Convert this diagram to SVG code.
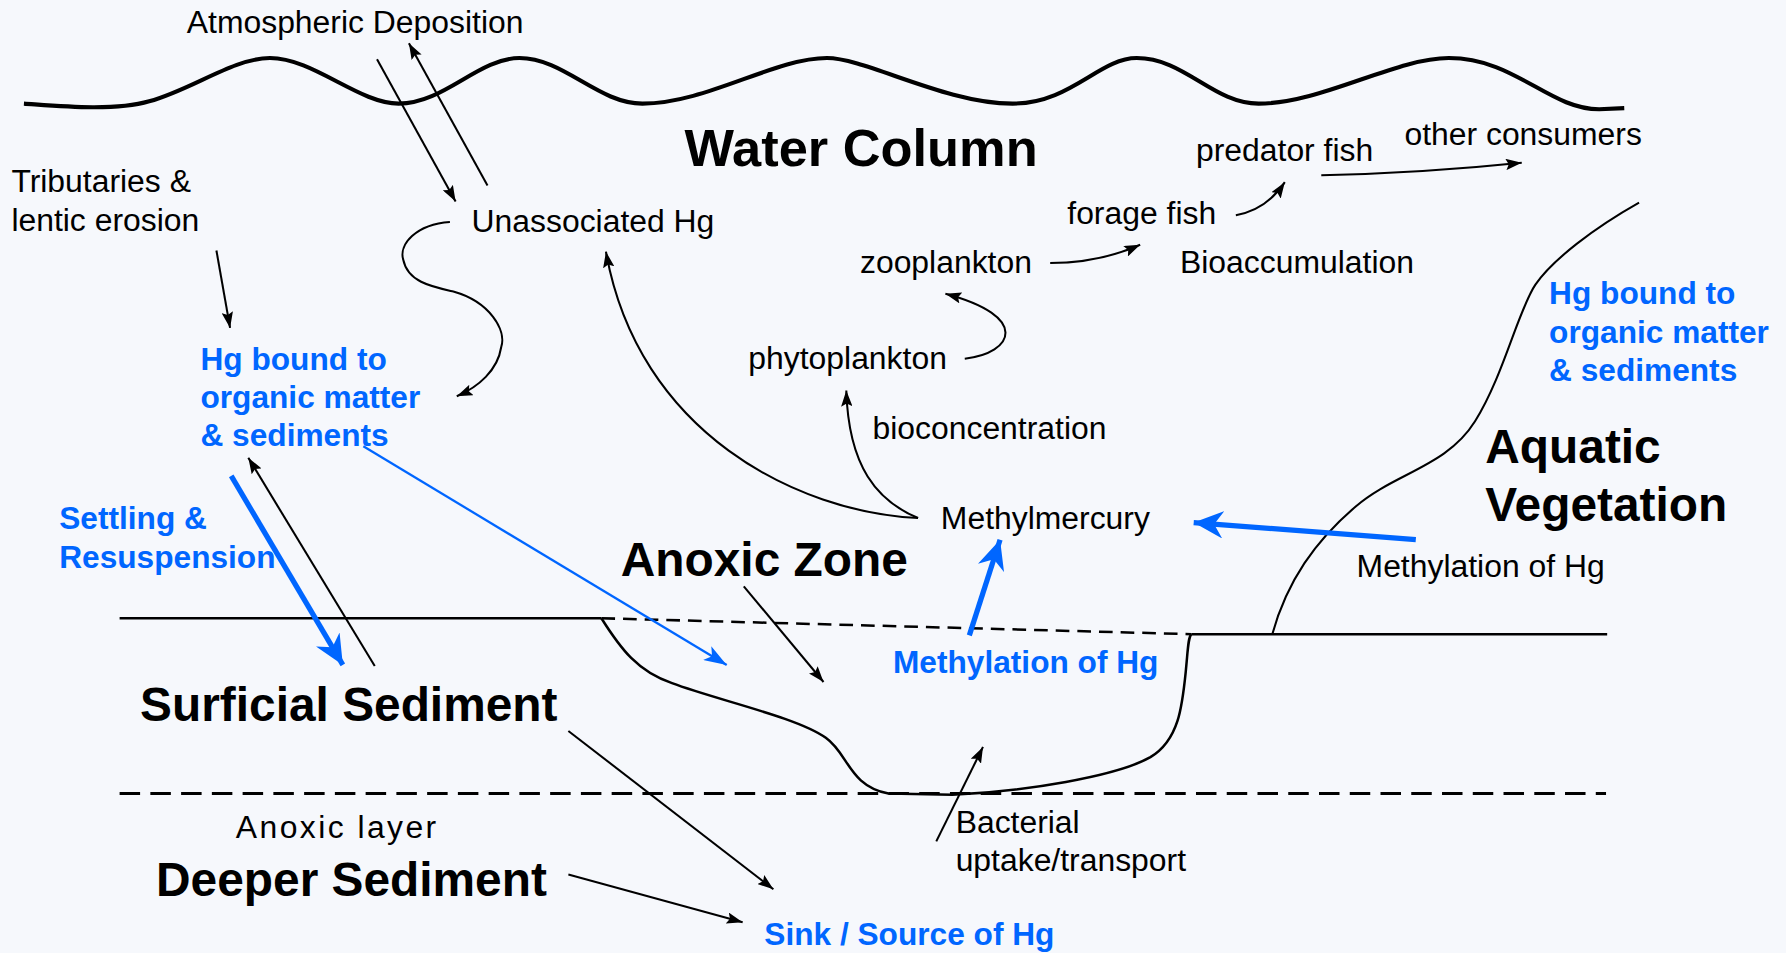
<svg xmlns="http://www.w3.org/2000/svg" width="1786" height="953" viewBox="0 0 1786 953">
<defs>
<style>
.t{font-family:"Liberation Sans",Arial,sans-serif;font-size:28px;fill:#000}
.bb{font-family:"Liberation Sans",Arial,sans-serif;font-weight:bold;font-size:42px;fill:#000}
.bl{font-family:"Liberation Sans",Arial,sans-serif;font-weight:bold;font-size:27.8px;fill:#0066ff}
.ln{fill:none;stroke:#000;stroke-width:1.8}
.gr{fill:none;stroke:#000;stroke-width:2.2}
.blt{fill:none;stroke:#0066ff;stroke-width:4.6}
.bln{fill:none;stroke:#0066ff;stroke-width:2}
</style>
<marker id="ah" viewBox="0 0 14 10" refX="14" refY="5" markerWidth="14" markerHeight="10" markerUnits="userSpaceOnUse" orient="auto"><path d="M0,0 L14,5 L0,10 L2.5,5 z" fill="#000"/></marker>
<marker id="ahb" viewBox="0 0 26 24" refX="26" refY="12" markerWidth="26" markerHeight="24" markerUnits="userSpaceOnUse" orient="auto"><path d="M0,0 L26,12 L0,24 L8,12 z" fill="#0066ff"/></marker>
<marker id="ahs" viewBox="0 0 20 14" refX="20" refY="7" markerWidth="20" markerHeight="14" markerUnits="userSpaceOnUse" orient="auto"><path d="M0,0 L20,7 L0,14 L5,7 z" fill="#0066ff"/></marker>
</defs>
<rect x="0" y="0" width="1786" height="953" fill="#f6f8fc"/>
<g transform="scale(1.13903,1.13859)">
<g id="scene">
<path id="surface" d="M21,91 C50,93 100,98 131,89 C170,78 205,51 237,51 C275,51 315,91 350,91 C390,91 420,51 456,51 C495,51 525,91 564,91 C620,91 680,51 726,51 C760,51 830,91 889,91 C940,91 965,51 998,51 C1040,51 1065,91 1105,91 C1160,91 1225,51 1272,51 C1330,51 1360,96 1404,96 L1426,95" fill="none" stroke="#000" stroke-width="3.6"/>
<path id="ground-left" class="gr" d="M105,543 L528,543"/>
<path id="ground-dash" class="gr" d="M528,543 L1046,557" stroke-dasharray="12 7"/>
<path id="ground-right" class="gr" d="M1046,557 L1411,557"/>
<path id="basin" class="gr" d="M528,543 C545,570 560,590 590,600 C630,615 700,630 725,648 C745,662 745,690 780,697 L836,698 C900,695 980,682 1010,665 C1035,650 1038,620 1041,590 C1043,570 1043,560 1046,557"/>
<path id="anoxic-layer-line" d="M105,697 L1410,697" fill="none" stroke="#000" stroke-width="2.6" stroke-dasharray="18 9"/>
<path id="vegetation-edge" class="ln" d="M1439,178 C1400,200 1363,228 1348,250 S1320,330 1295,370 S1225,415 1190,445 S1130,510 1117,557"/>
</g>
<g id="connectors">
<path class="ln" d="M331,52 L400,177" marker-end="url(#ah)"/>
<path class="ln" d="M428,163 L359,38" marker-end="url(#ah)"/>
<path class="ln" d="M190,220 L202,288" marker-end="url(#ah)"/>
<path class="ln" d="M395,195 C365,197 350,215 354,228 C358,248 380,252 398,256 C430,265 445,290 440,305 C437,325 420,340 401,348" marker-end="url(#ah)"/>
<path class="ln" d="M806,455 C700,450 560,380 532,221" marker-end="url(#ah)"/>
<path class="ln" d="M806,455 C770,440 745,410 743,343" marker-end="url(#ah)"/>
<path class="ln" d="M847,315 C890,310 905,278 830,258" marker-end="url(#ah)"/>
<path class="ln" d="M922,231 Q965,231 1001,215" marker-end="url(#ah)"/>
<path class="ln" d="M1085,189 Q1112,184 1128,160" marker-end="url(#ah)"/>
<path class="ln" d="M1160,154 Q1250,152 1336,143" marker-end="url(#ah)"/>
<path class="blt" d="M203,418 L301,584" marker-end="url(#ahb)"/>
<path class="ln" d="M329,585 L218,402" marker-end="url(#ah)"/>
<path class="bln" d="M319,392 L638,584" marker-end="url(#ahs)"/>
<path class="ln" d="M653,515 L723,599" marker-end="url(#ah)"/>
<path class="blt" d="M851,558 L878,474" marker-end="url(#ahb)"/>
<path class="blt" d="M1243,474 L1048,459" marker-end="url(#ahb)"/>
<path class="ln" d="M822,739 L863,656" marker-end="url(#ah)"/>
<path class="ln" d="M499,642 L679,781" marker-end="url(#ah)"/>
<path class="ln" d="M499,768 L652,810" marker-end="url(#ah)"/>
</g>
<g id="atmospheric-deposition"><text class="t" x="164" y="29">Atmospheric Deposition</text></g>
<g id="water-column"><text class="bb" style="font-size:46px" x="601" y="146">Water Column</text></g>
<g id="tributaries"><text class="t" x="10" y="169">Tributaries &amp;</text><text class="t" x="10" y="203">lentic erosion</text></g>
<g id="unassociated-hg"><text class="t" x="414" y="204">Unassociated Hg</text></g>
<g id="predator-fish"><text class="t" x="1050" y="141">predator fish</text></g>
<g id="other-consumers"><text class="t" x="1233" y="127">other consumers</text></g>
<g id="forage-fish"><text class="t" x="937" y="197">forage fish</text></g>
<g id="zooplankton"><text class="t" x="755" y="240">zooplankton</text></g>
<g id="bioaccumulation"><text class="t" x="1036" y="240">Bioaccumulation</text></g>
<g id="phytoplankton"><text class="t" x="657" y="324">phytoplankton</text></g>
<g id="bioconcentration"><text class="t" x="766" y="386">bioconcentration</text></g>
<g id="methylmercury"><text class="t" x="826" y="465">Methylmercury</text></g>
<g id="hg-bound-left"><text class="bl" x="176" y="325">Hg bound to</text><text class="bl" x="176" y="358">organic matter</text><text class="bl" x="176" y="392">&amp; sediments</text></g>
<g id="hg-bound-right"><text class="bl" x="1360" y="267">Hg bound to</text><text class="bl" x="1360" y="301">organic matter</text><text class="bl" x="1360" y="335">&amp; sediments</text></g>
<g id="settling"><text class="bl" x="52" y="465">Settling &amp;</text><text class="bl" x="52" y="499">Resuspension</text></g>
<g id="aquatic-vegetation"><text class="bb" x="1304" y="407">Aquatic</text><text class="bb" x="1304" y="458">Vegetation</text></g>
<g id="anoxic-zone"><text class="bb" x="545" y="506">Anoxic Zone</text></g>
<g id="methylation-black"><text class="t" x="1191" y="507">Methylation of Hg</text></g>
<g id="methylation-blue"><text class="bl" x="784" y="591">Methylation of Hg</text></g>
<g id="surficial-sediment"><text class="bb" x="123" y="633">Surficial Sediment</text></g>
<g id="anoxic-layer"><text class="t" x="207" y="736" textLength="176">Anoxic layer</text></g>
<g id="deeper-sediment"><text class="bb" x="137" y="787">Deeper Sediment</text></g>
<g id="bacterial"><text class="t" x="839" y="732">Bacterial</text><text class="t" x="839" y="765">uptake/transport</text></g>
<g id="sink-source"><text class="bl" x="671" y="830">Sink / Source of Hg</text></g>
</g>
</svg>
